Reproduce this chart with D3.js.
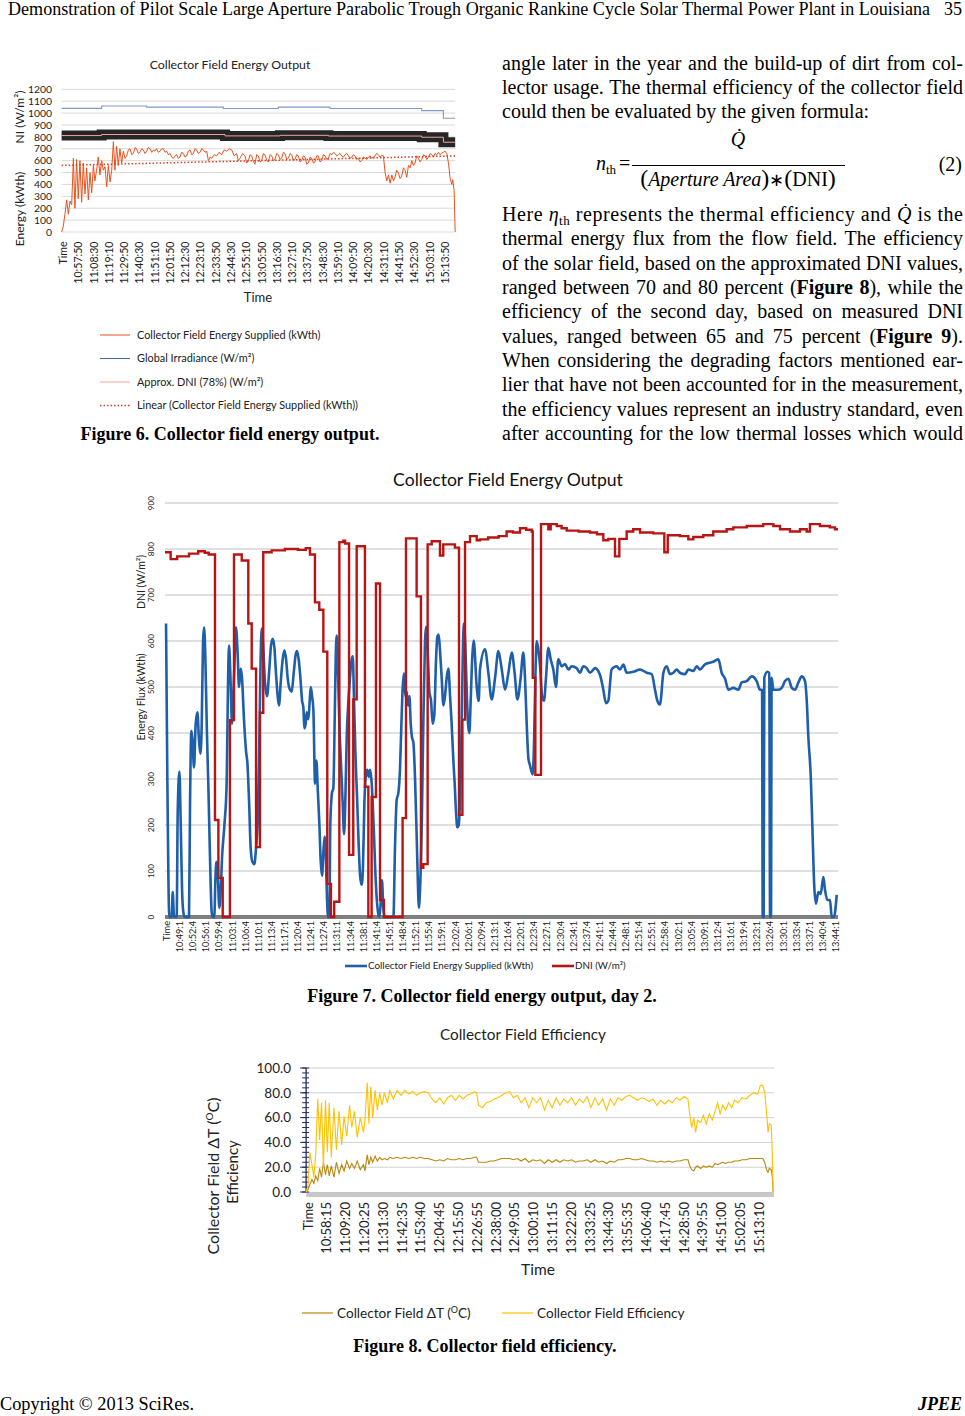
<!DOCTYPE html>
<html><head><meta charset="utf-8">
<script src="https://cdn.jsdelivr.net/npm/d3@7"></script>
<style>body{margin:0;background:#fff}svg{display:block}</style>
</head><body>
<svg id="page" width="965" height="1416"></svg>
<script>
// ---------------- DATA ----------------
// Figure 6 (day 1)
const fig6Labels = ["Time","10:57:50","11:08:30","11:19:10","11:29:50","11:40:30","11:51:10","12:01:50","12:12:30","12:23:10","12:33:50","12:44:30","12:55:10","13:05:50","13:16:30","13:27:10","13:37:50","13:48:30","13:59:10","14:09:50","14:20:30","14:31:10","14:41:50","14:52:30","15:03:10","15:13:50"];
const fig6YTicks = [0,100,200,300,400,500,600,700,800,900,1000,1100,1200];
const fig6Legend = ["Collector Field Energy Supplied (kWth)","Global Irradiance (W/m²)","Approx. DNI (78%) (W/m²)","Linear (Collector Field Energy Supplied (kWth))"];
const energy6 = [[-0.11,0],[0,50],[0.11,150],[0.22,270],[0.33,150],[0.44,260],[0.55,230],[0.66,620],[0.76,200],[0.87,610],[0.98,280],[1.09,600],[1.20,250],[1.31,580],[1.42,320],[1.53,540],[1.64,270],[1.75,500],[1.86,330],[1.97,560],[2.07,430],[2.18,520],[2.29,630],[2.40,480],[2.51,600],[2.62,520],[2.73,550],[2.84,380],[2.95,560],[3.06,420],[3.17,520],[3.28,760],[3.38,520],[3.49,720],[3.60,560],[3.71,700],[3.82,580],[3.93,680],[4.04,620],[4.15,640],[4.26,690],[4.37,700],[4.48,650],[4.59,660],[4.70,710],[4.80,700],[4.91,660],[5.02,670],[5.13,700],[5.24,690],[5.35,660],[5.46,680],[5.57,710],[5.68,700],[5.79,670],[5.90,690],[6.00,680],[6.11,700],[6.22,670],[6.33,680],[6.44,700],[6.55,700],[6.66,670],[6.77,680],[6.88,650],[6.99,660],[7.10,630],[7.21,620],[7.32,640],[7.42,650],[7.53,620],[7.64,630],[7.75,670],[7.86,660],[7.97,630],[8.08,640],[8.19,680],[8.30,690],[8.41,650],[8.52,660],[8.63,700],[8.73,690],[8.84,660],[8.95,670],[9.06,700],[9.17,690],[9.28,670],[9.39,680],[9.50,600],[9.61,630],[9.72,620],[9.88,650],[10.04,640],[10.20,670],[10.37,650],[10.53,690],[10.70,680],[10.86,700],[11.03,690],[11.19,640],[11.35,660],[11.46,600],[11.57,620],[11.74,660],[11.90,640],[12.01,580],[12.12,600],[12.23,650],[12.34,640],[12.45,590],[12.55,570],[12.66,650],[12.77,640],[12.88,590],[12.99,600],[13.10,660],[13.21,650],[13.32,600],[13.43,590],[13.54,650],[13.65,640],[13.76,600],[13.86,610],[13.97,660],[14.08,650],[14.19,610],[14.30,620],[14.41,670],[14.52,660],[14.63,610],[14.74,620],[14.85,660],[14.96,650],[15.07,600],[15.17,610],[15.28,650],[15.39,640],[15.50,590],[15.61,600],[15.72,640],[15.83,630],[15.94,570],[16.05,580],[16.16,630],[16.27,620],[16.38,580],[16.48,590],[16.59,640],[16.70,640],[16.81,590],[16.92,600],[17.03,650],[17.14,640],[17.25,610],[17.36,620],[17.47,660],[17.58,650],[17.69,670],[17.79,660],[17.90,640],[18.01,650],[18.12,660],[18.23,640],[18.34,630],[18.45,650],[18.56,660],[18.67,640],[18.78,620],[18.89,630],[19.00,650],[19.10,640],[19.21,610],[19.32,620],[19.43,590],[19.54,600],[19.65,630],[19.76,620],[19.87,610],[19.98,630],[20.09,640],[20.20,620],[20.31,630],[20.41,640],[20.52,660],[20.63,650],[20.74,630],[20.85,645],[20.96,640],[21.07,500],[21.18,430],[21.29,480],[21.40,410],[21.51,480],[21.62,430],[21.72,460],[21.83,520],[21.94,500],[22.05,450],[22.16,470],[22.27,540],[22.38,520],[22.49,460],[22.60,560],[22.71,540],[22.82,600],[22.93,560],[23.03,580],[23.14,640],[23.25,620],[23.36,590],[23.47,610],[23.58,650],[23.69,640],[23.80,610],[23.91,630],[24.02,660],[24.13,650],[24.24,630],[24.34,660],[24.45,650],[24.56,670],[24.67,650],[24.78,665],[24.89,670],[25.00,680],[25.11,660],[25.22,580],[25.33,450],[25.44,400],[25.50,440],[25.59,350],[25.66,0]];
const globalIrr6 = [[-0.11,1040],[2.51,1060],[5.46,1050],[10.48,1038],[14.08,1050],[17.47,1038],[23.47,1021],[24.89,956],[25.66,956]];
const dniApprox6 = [[-0.11,811],[2.51,820],[10.59,808],[14.19,813],[17.36,807],[23.47,797],[24.89,755],[25.66,755]];
const trend6 = [[-0.11,560],[25.66,640]];

// Figure 7 (day 2)
const fig7Labels = ["Time","10:49:1","10:52:4","10:56:1","10:59:4","11:03:1","11:06:4","11:10:1","11:13:4","11:17:1","11:20:4","11:24:1","11:27:4","11:31:1","11:34:4","11:38:1","11:41:4","11:45:1","11:48:4","11:52:1","11:55:4","11:59:1","12:02:4","12:06:1","12:09:4","12:13:1","12:16:4","12:20:1","12:23:4","12:27:1","12:30:4","12:34:1","12:37:4","12:41:1","12:44:4","12:48:1","12:51:4","12:55:1","12:58:4","13:02:1","13:05:4","13:09:1","13:12:4","13:16:1","13:19:4","13:23:1","13:26:4","13:30:1","13:33:4","13:37:1","13:40:4","13:44:1"];
const fig7YTicks = [0,100,200,300,400,500,600,700,800,900];
const flux7 = [[-0.05,638],[0.05,300],[0.20,0],[0.38,0],[0.46,54],[0.56,0],[0.76,0],[0.84,230],[0.97,316],[1.07,200],[1.17,60],[1.27,10],[1.37,0],[1.70,0],[1.78,250],[1.88,405],[1.98,380],[2.08,325],[2.21,420],[2.34,445],[2.46,385],[2.57,355],[2.67,420],[2.77,600],[2.85,630],[2.95,560],[3.05,420],[3.18,280],[3.30,130],[3.43,10],[3.51,0],[3.63,0],[3.71,80],[3.79,120],[3.89,95],[4.01,20],[4.12,60],[4.22,130],[4.40,200],[4.57,290],[4.67,500],[4.75,590],[4.85,530],[4.98,420],[5.13,520],[5.28,630],[5.41,570],[5.51,500],[5.64,540],[5.74,520],[5.89,430],[6.05,360],[6.15,335],[6.28,250],[6.40,150],[6.53,120],[6.68,115],[6.81,150],[6.94,210],[7.06,380],[7.16,560],[7.24,627],[7.37,580],[7.49,510],[7.65,480],[7.80,530],[7.95,590],[8.08,605],[8.21,585],[8.33,530],[8.46,480],[8.56,460],[8.69,510],[8.84,560],[8.97,580],[9.10,560],[9.22,520],[9.38,495],[9.53,490],[9.68,530],[9.83,570],[9.93,578],[10.06,560],[10.19,520],[10.32,470],[10.42,455],[10.49,410],[10.59,420],[10.67,445],[10.80,430],[10.90,470],[10.98,500],[11.08,480],[11.18,450],[11.31,290],[11.41,340],[11.51,280],[11.64,200],[11.74,120],[11.84,90],[11.94,140],[12.04,175],[12.14,120],[12.22,40],[12.30,0],[12.40,0],[12.47,200],[12.60,270],[12.70,280],[12.80,420],[12.88,560],[12.96,612],[13.06,530],[13.16,420],[13.29,330],[13.41,250],[13.52,180],[13.62,260],[13.72,390],[13.85,470],[13.97,520],[14.10,560],[14.18,567],[14.28,470],[14.38,360],[14.51,260],[14.63,160],[14.74,90],[14.86,70],[14.96,110],[15.07,250],[15.19,310],[15.29,320],[15.40,305],[15.50,320],[15.60,300],[15.70,250],[15.80,180],[15.90,100],[16.01,40],[16.11,10],[16.21,0],[16.31,30],[16.41,80],[16.51,20],[16.62,0],[17.28,0],[17.40,150],[17.53,255],[17.66,270],[17.78,320],[17.89,420],[17.99,500],[18.09,530],[18.19,480],[18.29,490],[18.39,460],[18.50,480],[18.60,420],[18.70,390],[18.80,380],[18.93,300],[19.05,180],[19.16,60],[19.21,20],[19.31,60],[19.44,200],[19.56,420],[19.69,600],[19.77,631],[19.89,580],[20.02,490],[20.15,470],[20.27,420],[20.40,440],[20.53,560],[20.63,610],[20.73,614],[20.83,580],[20.96,520],[21.09,460],[21.21,480],[21.34,520],[21.47,540],[21.60,480],[21.72,420],[21.85,340],[21.95,290],[22.05,230],[22.15,195],[22.26,200],[22.36,260],[22.48,420],[22.59,600],[22.66,638],[22.76,590],[22.87,490],[22.97,420],[23.07,400],[23.17,470],[23.30,570],[23.40,601],[23.63,500],[23.78,470],[23.88,538],[24.26,582],[24.52,530],[24.77,473],[25.03,520],[25.28,578],[25.53,540],[25.79,494],[26.04,530],[26.30,575],[26.52,530],[26.73,473],[26.98,520],[27.18,575],[27.31,520],[27.44,420],[27.57,345],[27.69,330],[27.82,315],[27.90,310],[28.00,380],[28.10,520],[28.20,600],[28.33,580],[28.46,545],[28.61,480],[28.76,470],[28.91,520],[29.09,585],[29.27,560],[29.47,538],[29.67,500],[29.85,560],[30.11,545],[30.36,550],[30.62,538],[30.87,545],[31.25,541],[31.50,531],[31.76,545],[32.01,541],[32.27,531],[32.65,541],[33.03,526],[33.28,494],[33.48,465],[33.66,470],[33.91,538],[34.29,545],[34.55,538],[34.81,549],[35.06,531],[35.57,533],[36.08,538],[36.59,531],[36.97,528],[37.22,494],[37.40,470],[37.60,462],[37.86,531],[38.11,545],[38.36,528],[38.62,531],[38.87,538],[39.12,531],[39.51,528],[39.76,538],[40.14,535],[40.40,545],[40.65,538],[41.03,549],[41.29,552],[41.67,555],[42.05,560],[42.30,531],[42.56,518],[42.81,494],[43.19,498],[43.57,494],[43.83,510],[44.21,513],[44.59,523],[44.97,513],[45.22,494],[45.38,494],[45.43,0],[45.50,0],[45.55,520],[45.78,533],[45.93,530],[45.99,0],[46.06,0],[46.11,520],[46.24,494],[46.62,494],[46.88,498],[47.13,513],[47.39,518],[47.64,498],[47.89,494],[48.15,510],[48.40,523],[48.65,513],[48.78,473],[48.91,390],[49.09,306],[49.21,200],[49.36,66],[49.49,29],[49.67,54],[49.85,50],[50.05,87],[50.18,58],[50.36,37],[50.56,37],[50.69,0],[50.86,0],[51.07,48]];
const dni7 = [[-0.13,793],[0.3,778],[0.8,784],[1.7,790],[2.4,795],[2.9,792],[3.2,788],[3.68,211],[3.94,85],[4.27,0],[4.82,428],[5.13,788],[5.72,775],[6.22,638],[6.48,540],[6.81,152],[7.11,444],[7.36,793],[8.0,797],[9.0,800],[10.0,798],[10.6,802],[10.92,788],[11.30,684],[11.63,668],[11.94,577],[12.24,72],[12.52,0],[12.77,33],[13.16,815],[13.46,818],[13.6,812],[13.90,135],[14.22,473],[14.48,806],[15.11,283],[15.37,0],[15.62,261],[15.95,725],[16.26,37],[16.56,0],[17.98,215],[18.24,823],[19.05,697],[19.38,107],[19.56,115],[19.89,810],[20.2,817],[20.83,786],[21.08,810],[21.97,803],[22.28,222],[22.54,429],[22.74,815],[23.12,828],[23.63,819],[23.88,821],[24.5,825],[25.3,828],[25.91,838],[26.4,836],[26.93,845],[27.4,842],[27.82,838],[27.90,520],[28.10,309],[28.53,854],[29.09,843],[29.27,854],[29.73,850],[30.1,845],[30.49,840],[31.4,838],[32.26,836],[32.8,832],[33.28,819],[33.66,822],[34.17,784],[34.50,822],[35.06,838],[35.56,843],[36.08,836],[37.09,834],[37.93,793],[38.19,830],[39.12,828],[39.76,821],[40.14,826],[40.90,830],[41.66,838],[42.68,843],[43.19,847],[44.21,850],[45.47,854],[46.24,850],[46.75,843],[47.51,838],[48.27,843],[48.78,838],[49.03,854],[49.79,850],[50.55,847],[50.94,843],[51.17,843]];
const fig7Legend = ["Collector Field Energy Supplied (kWth)","DNI (W/m²)"];

// Figure 8
const fig8Labels = ["Time","10:58:15","11:09:20","11:20:25","11:31:30","11:42:35","11:53:40","12:04:45","12:15:50","12:26:55","12:38:00","12:49:05","13:00:10","13:11:15","13:22:20","13:33:25","13:44:30","13:55:35","14:06:40","14:17:45","14:28:50","14:39:55","14:51:00","15:02:05","15:13:10"];
const fig8YTicks = [0,20,40,60,80,100];
const fig8Time = [-0.10,0.00,0.10,0.21,0.31,0.41,0.52,0.62,0.72,0.82,0.93,1.03,1.13,1.24,1.38,1.51,1.65,1.79,1.92,2.06,2.21,2.33,2.47,2.62,2.78,2.95,3.03,3.15,3.24,3.34,3.44,3.57,3.69,3.81,3.94,4.06,4.23,4.35,4.54,4.74,4.95,5.15,5.36,5.57,5.77,5.98,6.19,6.39,6.60,6.80,7.01,7.22,7.42,7.63,7.84,8.04,8.25,8.45,8.66,8.87,8.97,9.07,9.28,9.48,9.69,9.90,10.10,10.31,10.52,10.72,10.93,11.13,11.34,11.55,11.75,11.96,12.16,12.37,12.58,12.78,12.99,13.20,13.40,13.61,13.81,14.02,14.23,14.43,14.64,14.85,15.05,15.26,15.46,15.67,15.88,16.08,16.29,16.49,16.70,16.91,17.11,17.32,17.53,17.73,17.94,18.14,18.35,18.56,18.76,18.97,19.18,19.38,19.59,19.79,20.00,20.21,20.31,20.41,20.52,20.62,20.72,20.89,21.03,21.18,21.34,21.51,21.65,21.79,21.92,22.06,22.21,22.37,22.54,22.68,22.89,23.09,23.30,23.51,23.71,23.92,24.06,24.19,24.29,24.39,24.47,24.54,24.64,24.70,24.74];
const efficiency8 = [0,5,32,22,12,30,75,42,72,20,74,32,72,28,68,34,65,38,61,45,70,52,65,44,60,48,58,88,55,85,60,82,66,80,70,80,72,82,75,82,78,82,79,81,78,80,81,80,75,72,76,71,76,78,74,78,75,78,79,81,80,70,68,72,73,75,76,78,80,81,76,78,72,76,68,76,72,76,66,74,68,76,70,75,72,76,70,75,72,77,68,76,70,75,66,75,70,76,74,77,78,76,74,76,75,73,75,70,74,71,74,72,76,74,77,75,62,52,60,48,58,56,62,55,63,58,65,72,63,70,66,72,68,74,72,76,75,78,80,79,86,86,80,65,48,55,54,30,0];
const deltaT8 = [0,2,6,10,7,13,9,19,12,24,14,22,13,21,12,24,15,22,17,25,19,23,19,25,18,22,17,30,22,28,24,29,25,28,26,27,26,28,27,28,27,28,27,28,27,28,27,27,26,25,26,25,27,26,26,27,26,27,27,28,28,24,24,24,25,25,26,27,27,27,26,27,25,27,24,26,25,26,23,26,24,26,24,26,25,26,24,25,25,26,24,26,24,25,23,25,24,26,26,27,27,26,26,27,26,25,25,24,25,24,25,24,25,25,26,26,21,18,17,20,21,19,21,20,21,20,23,22,23,24,23,24,24,25,25,26,26,27,27,27,27,27,24,18,16,19,18,12,0];

// Body text
const bodyLines = [
  {y:70, j:true, s:["angle later in the year and the build-up of dirt from col-"]},
  {y:94, j:true, s:["lector usage. The thermal efficiency of the collector field"]},
  {y:118, j:false, s:["could then be evaluated by the given formula:"]},
  {y:221, j:true, s:["Here ", ["\u03B7","i"], ["th","s"], " represents the thermal efficiency and  ", ["Q\u0307","i"], "  is the"]},
  {y:245, j:true, s:["thermal energy flux from the flow field. The efficiency"]},
  {y:270, j:true, s:["of the solar field, based on the approximated DNI values,"]},
  {y:294, j:true, s:["ranged between 70 and 80 percent (", ["Figure 8","b"], "), while the"]},
  {y:318, j:true, s:["efficiency of the second day, based on measured DNI"]},
  {y:343, j:true, s:["values, ranged between 65 and 75 percent (", ["Figure 9","b"], ")."]},
  {y:367, j:true, s:["When considering the degrading factors mentioned ear-"]},
  {y:391, j:true, s:["lier that have not been accounted for in the measurement,"]},
  {y:416, j:true, s:["the efficiency values represent an industry standard, even"]},
  {y:440, j:true, s:["after accounting for the low thermal losses which would"]}
];

// ---------------- DRAW ----------------
const SANS = "Lato, 'Open Sans', 'DejaVu Sans', sans-serif";
const SERIF = "'Liberation Serif', 'Times New Roman', serif";
const svg = d3.select('#page');

function txt(g, x, y, s, o = {}) {
  const t = g.append('text').attr('x', x).attr('y', y).text(s)
    .attr('font-family', o.ff || SANS).attr('font-size', o.fs || 10).attr('fill', o.fill || '#000');
  if (o.anchor) t.attr('text-anchor', o.anchor);
  if (o.fw) t.attr('font-weight', o.fw);
  if (o.fst) t.attr('font-style', o.fst);
  if (o.dy) t.attr('dy', o.dy);
  if (o.rot) t.attr('transform', `rotate(${o.rot},${x},${y})`);
  if (o.tl) t.attr('textLength', o.tl).attr('lengthAdjust', 'spacingAndGlyphs');
  return t;
}

// Header / footer
txt(svg, 8, 15, "Demonstration of Pilot Scale Large Aperture Parabolic Trough Organic Rankine Cycle Solar Thermal Power Plant in Louisiana", {ff: SERIF, fs: 18, tl: 922});
txt(svg, 962, 15, "35", {ff: SERIF, fs: 18, anchor: 'end'});
txt(svg, 0, 1410, "Copyright \u00A9 2013 SciRes.", {ff: SERIF, fs: 18, tl: 194});
txt(svg, 962, 1410, "JPEE", {ff: SERIF, fs: 18, anchor: 'end', fw: 'bold', fst: 'italic'});

// Body text
const BODY_FS = 20;
bodyLines.forEach(spec => {
  const t = svg.append('text').attr('x', 502).attr('y', spec.y)
    .attr('font-family', SERIF).attr('font-size', BODY_FS).attr('fill', '#000');
  let shift = 0;
  spec.s.forEach(seg => {
    const [str, st] = typeof seg === 'string' ? [seg, ''] : seg;
    const ts = t.append('tspan').text(str);
    if (st.includes('b')) ts.attr('font-weight', 'bold');
    if (st.includes('i')) ts.attr('font-style', 'italic');
    if (st.includes('s')) { ts.attr('font-size', 13).attr('dy', 4 - shift); shift = 4; }
    else if (shift) { ts.attr('dy', -shift); shift = 0; }
  });
  if (spec.j) {
    const W = 461;
    const len = t.node().getComputedTextLength();
    const n = (t.text().match(/ /g) || []).length;
    if (n) {
      t.attr('word-spacing', (W - len) / n);
      const len2 = t.node().getComputedTextLength();
      if (Math.abs(len2 - W) > 4) t.attr('word-spacing', null).attr('textLength', W).attr('lengthAdjust', 'spacing');
    }
  }
});

// Equation (2)
const eq = svg.append('g').attr('font-family', SERIF).attr('fill', '#000');
txt(eq, 596, 170, "n", {ff: SERIF, fs: 20, fst: 'italic'});
txt(eq, 606, 174, "th", {ff: SERIF, fs: 13});
txt(eq, 619, 170, "=", {ff: SERIF, fs: 20});
eq.append('line').attr('x1', 632).attr('x2', 845).attr('y1', 165.5).attr('y2', 165.5).attr('stroke', '#000').attr('stroke-width', 1);
txt(eq, 738, 146, "Q\u0307", {ff: SERIF, fs: 20, fst: 'italic', anchor: 'middle'});
{
  const d = eq.append('text').attr('x', 738).attr('y', 186).attr('text-anchor', 'middle').attr('font-family', SERIF).attr('font-size', 20);
  [["(", 24, ''], ["Aperture Area", 20, 'i'], [")", 24, ''], ["\u2217", 18, ''], ["(", 24, ''], ["DNI", 20, ''], [")", 24, '']].forEach(([s, f, st]) => {
    const ts = d.append('tspan').text(s).attr('font-size', f);
    if (st) ts.attr('font-style', 'italic');
  });
}
txt(eq, 962, 171, "(2)", {ff: SERIF, fs: 20, anchor: 'end'});

// Captions
txt(svg, 230, 440, "Figure 6. Collector field energy output.", {ff: SERIF, fs: 18, fw: 'bold', anchor: 'middle'});
txt(svg, 482, 1002, "Figure 7. Collector field energy output, day 2.", {ff: SERIF, fs: 18, fw: 'bold', anchor: 'middle'});
txt(svg, 485, 1352, "Figure 8. Collector field efficiency.", {ff: SERIF, fs: 18, fw: 'bold', anchor: 'middle'});

// ---------- Figure 6 ----------
{
  const g = svg.append('g');
  const x = d3.scaleLinear().domain([0, fig6Labels.length - 1]).range([63.3, 445.1]);
  const y = d3.scaleLinear().domain([0, 1200]).range([232, 89.3]);
  const xe = d3.extent(energy6, d => d[0]);
  txt(g, 230, 69, "Collector Field Energy Output", {fs: 12.3, anchor: 'middle', fill: '#222'});
  g.selectAll('line.grid').data(fig6YTicks).join('line').attr('class', 'grid')
    .attr('x1', x(xe[0])).attr('x2', x(xe[1])).attr('y1', d => y(d)).attr('y2', d => y(d))
    .attr('stroke', '#d9d9d9').attr('stroke-width', 1);
  g.selectAll('text.yl').data(fig6YTicks).join('text').attr('class', 'yl')
    .attr('x', 52).attr('y', d => y(d)).attr('dy', '0.35em').attr('text-anchor', 'end')
    .attr('font-family', SANS).attr('font-size', 10.4).attr('fill', '#222').text(d => d);
  g.selectAll('text.xl').data(fig6Labels).join('text').attr('class', 'xl')
    .attr('transform', (d, i) => `translate(${x(i)},241.5) rotate(-90)`)
    .attr('text-anchor', 'end').attr('dy', '0.35em')
    .attr('font-family', SANS).attr('font-size', 10.6).attr('fill', '#222').text(d => d);
  txt(g, 258, 302, "Time", {fs: 13, anchor: 'middle', fill: '#222'});
  txt(g, 20, 117, "NI (W/m²)", {fs: 12, anchor: 'middle', rot: -90, dy: '0.35em', fill: '#222'});
  txt(g, 20, 209, "Energy (kWth)", {fs: 12, anchor: 'middle', rot: -90, dy: '0.35em', fill: '#222'});

  const lin = d3.line().x(d => x(d[0])).y(d => y(d[1]));
  const stp = d3.line().x(d => x(d[0])).y(d => y(d[1])).curve(d3.curveStepAfter);
  g.append('path').datum(energy6).attr('d', lin).attr('fill', 'none').attr('stroke', '#e9521d').attr('stroke-width', 1);
  g.append('path').datum(globalIrr6).attr('d', stp).attr('fill', 'none').attr('stroke', '#7f9bc4').attr('stroke-width', 1.1);
  g.append('path').datum(dniApprox6).attr('d', stp).attr('fill', 'none').attr('stroke', '#262626').attr('stroke-width', 10);
  g.append('path').datum(dniApprox6).attr('d', stp).attr('fill', 'none').attr('stroke', '#f2a29c').attr('stroke-width', 1);
  g.append('path').datum(trend6).attr('d', lin).attr('fill', 'none').attr('stroke', '#e23b1a').attr('stroke-width', 1.5).attr('stroke-dasharray', '1.5,2');

  const legColors = ['#e9521d', '#4a6a9a', '#f2a29c', '#e23b1a'];
  const lg = g.selectAll('g.leg').data(fig6Legend).join('g').attr('class', 'leg')
    .attr('transform', (d, i) => `translate(100,${335 + i * 23.5})`);
  lg.append('line').attr('x1', 0).attr('x2', 30).attr('y1', 0).attr('y2', 0)
    .attr('stroke', (d, i) => legColors[i]).attr('stroke-width', (d, i) => i === 3 ? 1.5 : 1)
    .attr('stroke-dasharray', (d, i) => i === 3 ? '1.5,2' : null);
  lg.append('text').attr('x', 37).attr('y', 0).attr('dy', '0.35em')
    .attr('font-family', SANS).attr('font-size', 10.9).attr('fill', '#222').text(d => d);
}

// ---------- Figure 7 ----------
{
  const g = svg.append('g');
  const x = d3.scaleLinear().domain([0, fig7Labels.length - 1]).range([166.7, 835.8]);
  const y = d3.scaleLinear().domain([0, 900]).range([917, 503]);
  const xl = x(-0.13), xr = x(51.17);
  txt(g, 508, 486, "Collector Field Energy Output", {fs: 17.6, anchor: 'middle', fill: '#111'});
  g.selectAll('line.grid').data(fig7YTicks.slice(1)).join('line').attr('class', 'grid')
    .attr('x1', xl).attr('x2', xr).attr('y1', d => y(d)).attr('y2', d => y(d))
    .attr('stroke', '#bfbfbf').attr('stroke-width', 1);
  g.append('line').attr('x1', xl).attr('x2', xr).attr('y1', y(0)).attr('y2', y(0))
    .attr('stroke', '#7f7f7f').attr('stroke-width', 4);
  g.selectAll('text.yl').data(fig7YTicks).join('text').attr('class', 'yl')
    .attr('transform', d => `translate(151,${y(d)}) rotate(-90)`)
    .attr('text-anchor', 'middle').attr('dy', '0.35em')
    .attr('font-family', SANS).attr('font-size', 8.2).attr('fill', '#222').text(d => d);
  g.selectAll('text.xl').data(fig7Labels).join('text').attr('class', 'xl')
    .attr('transform', (d, i) => `translate(${x(i)},921) rotate(-90)`)
    .attr('text-anchor', 'end').attr('dy', '0.35em')
    .attr('font-family', SANS).attr('font-size', 9.2).attr('fill', '#222').text(d => d);
  txt(g, 141, 582, "DNI (W/m²)", {fs: 10.5, anchor: 'middle', rot: -90, dy: '0.35em', fill: '#222'});
  txt(g, 141, 697, "Energy Flux (kWth)", {fs: 10.5, anchor: 'middle', rot: -90, dy: '0.35em', fill: '#222'});

  const smooth = d3.line().x(d => x(d[0])).y(d => y(d[1])).curve(d3.curveMonotoneX);
  const stp = d3.line().x(d => x(d[0])).y(d => y(d[1])).curve(d3.curveStepAfter);
  g.append('path').datum(flux7).attr('d', smooth).attr('fill', 'none').attr('stroke', '#1f5ea8').attr('stroke-width', 2.6).attr('stroke-linejoin', 'round');
  g.append('path').datum(dni7).attr('d', stp).attr('fill', 'none').attr('stroke', '#b81414').attr('stroke-width', 2.4);

  const legX = [345, 552];
  const legC = ['#1f5ea8', '#b81414'];
  const lg = g.selectAll('g.leg').data(fig7Legend).join('g').attr('class', 'leg')
    .attr('transform', (d, i) => `translate(${legX[i]},966)`);
  lg.append('line').attr('x1', 0).attr('x2', 22).attr('y1', 0).attr('y2', 0).attr('stroke', (d, i) => legC[i]).attr('stroke-width', 2.6);
  lg.append('text').attr('x', 23).attr('y', 0).attr('dy', '0.35em')
    .attr('font-family', SANS).attr('font-size', 9.8).attr('fill', '#222').text(d => d);
}

// ---------- Figure 8 ----------
{
  const g = svg.append('g');
  const x = d3.scaleLinear().domain([0, fig8Labels.length - 1]).range([308, 759.2]);
  const y = d3.scaleLinear().domain([0, 100]).range([1192, 1068]);
  const xl = x(fig8Time[0]), xr = x(24.79);
  txt(g, 523, 1040, "Collector Field Efficiency", {fs: 15.3, anchor: 'middle', fill: '#222'});
  g.selectAll('line.grid').data(fig8YTicks.slice(1)).join('line').attr('class', 'grid')
    .attr('x1', xl).attr('x2', xr).attr('y1', d => y(d)).attr('y2', d => y(d))
    .attr('stroke', '#d0d0d0').attr('stroke-width', 1);
  g.append('line').attr('x1', xl).attr('x2', xr).attr('y1', y(0) + 2.5).attr('y2', y(0) + 2.5)
    .attr('stroke', '#c8c8c8').attr('stroke-width', 5);
  g.append('line').attr('x1', xl).attr('x2', xl).attr('y1', y(0)).attr('y2', y(100)).attr('stroke', '#1f2a5e').attr('stroke-width', 1.3);
  g.selectAll('line.tk').data(d3.range(0, 101, 4)).join('line').attr('class', 'tk')
    .attr('x1', xl - 4).attr('x2', xl + 3).attr('y1', d => y(d)).attr('y2', d => y(d))
    .attr('stroke', '#1f2a5e').attr('stroke-width', 1);
  g.selectAll('line.tkM').data(fig8YTicks).join('line').attr('class', 'tkM')
    .attr('x1', xl - 6).attr('x2', xl).attr('y1', d => y(d)).attr('y2', d => y(d))
    .attr('stroke', '#1f2a5e').attr('stroke-width', 1);
  g.selectAll('text.yl').data(fig8YTicks).join('text').attr('class', 'yl')
    .attr('x', 291).attr('y', d => y(d)).attr('dy', '0.35em').attr('text-anchor', 'end')
    .attr('font-family', SANS).attr('font-size', 13.5).attr('fill', '#222').text(d => d3.format('.1f')(d));
  g.selectAll('text.xl').data(fig8Labels).join('text').attr('class', 'xl')
    .attr('transform', (d, i) => `translate(${x(i)},1202) rotate(-90)`)
    .attr('text-anchor', 'end').attr('dy', '0.35em')
    .attr('font-family', SANS).attr('font-size', 13).attr('fill', '#222').text(d => d);
  txt(g, 538, 1275, "Time", {fs: 15.5, anchor: 'middle', fill: '#222'});
  {
    const t = g.append('text').attr('transform', 'translate(213,1176) rotate(-90)').attr('text-anchor', 'middle').attr('dy', '0.35em')
      .attr('font-family', SANS).attr('font-size', 16).attr('fill', '#222');
    t.append('tspan').text('Collector Field \u0394T (');
    t.append('tspan').text('O').attr('font-size', 10).attr('dy', -6);
    t.append('tspan').text('C)').attr('dy', 6);
  }
  g.append('text').attr('transform', 'translate(233,1172) rotate(-90)').attr('text-anchor', 'middle').attr('dy', '0.35em')
    .attr('font-family', SANS).attr('font-size', 15).attr('fill', '#222').text('Efficiency');

  const ptsT = fig8Time.map((t, i) => [t, deltaT8[i]]);
  const ptsE = fig8Time.map((t, i) => [t, efficiency8[i]]);
  const lin = d3.line().x(d => x(d[0])).y(d => y(d[1]));
  g.append('path').datum(ptsT).attr('d', lin).attr('fill', 'none').attr('stroke', '#b8860b').attr('stroke-width', 1.1);
  g.append('path').datum(ptsE).attr('d', lin).attr('fill', 'none').attr('stroke', '#ffc000').attr('stroke-width', 1.1);

  g.append('line').attr('x1', 302).attr('x2', 333).attr('y1', 1313).attr('y2', 1313).attr('stroke', '#b8860b').attr('stroke-width', 1.2);
  {
    const t = g.append('text').attr('x', 337).attr('y', 1313).attr('dy', '0.35em').attr('font-family', SANS).attr('font-size', 13.6).attr('fill', '#222');
    t.append('tspan').text('Collector Field \u0394T (');
    t.append('tspan').text('O').attr('font-size', 9).attr('dy', -5);
    t.append('tspan').text('C)').attr('dy', 5);
  }
  g.append('line').attr('x1', 502).attr('x2', 533).attr('y1', 1313).attr('y2', 1313).attr('stroke', '#ffc000').attr('stroke-width', 1.2);
  g.append('text').attr('x', 537).attr('y', 1313).attr('dy', '0.35em').attr('font-family', SANS).attr('font-size', 13.6).attr('fill', '#222').text('Collector Field Efficiency');
}
</script>
</body></html>
